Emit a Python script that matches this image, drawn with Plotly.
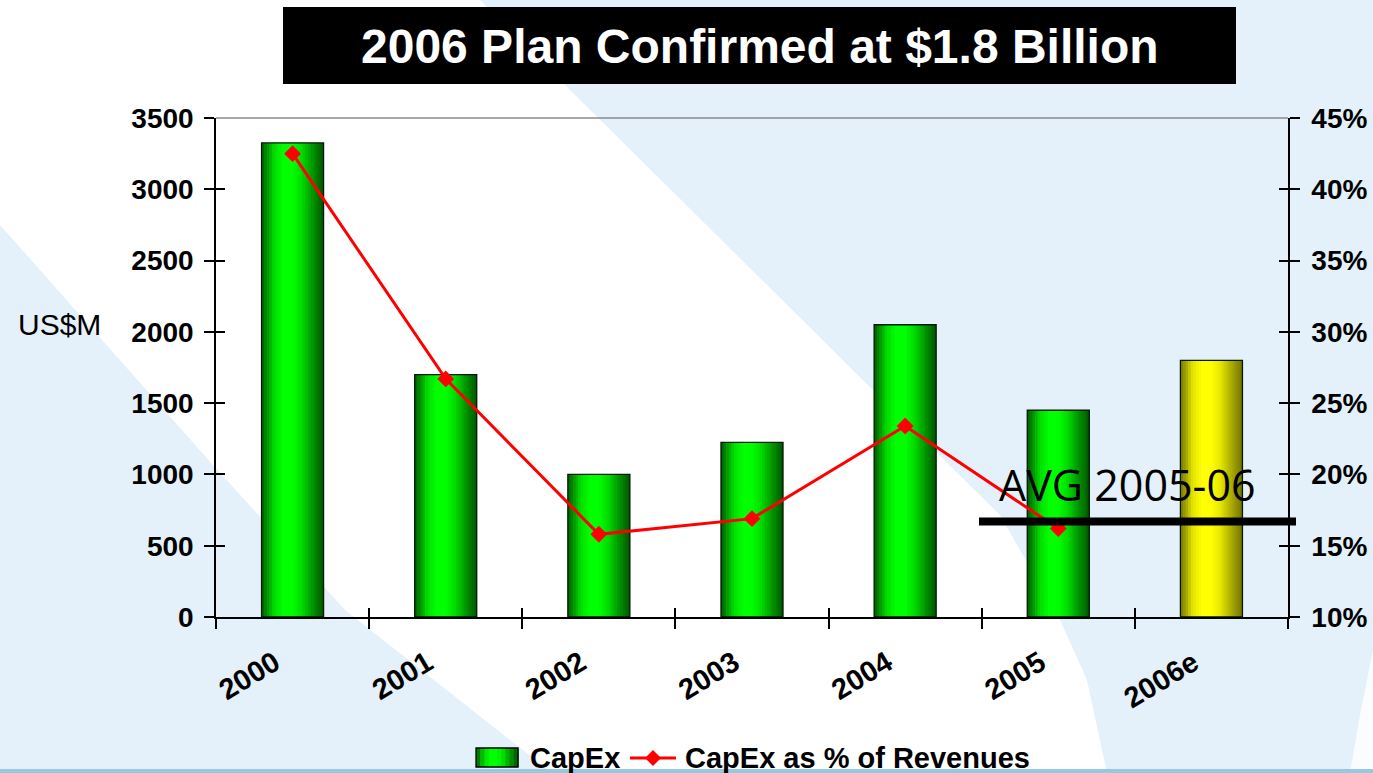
import numpy as np
import plotly.graph_objects as go

# ---- data -------------------------------------------------------------
years = ["2000", "2001", "2002", "2003", "2004", "2005", "2006e"]
capex = [3325, 1700, 1000, 1225, 2050, 1450, 1800]            # US$M
capex_pct = [42.5, 26.7, 15.8, 16.9, 23.4, 16.2, None]        # % of revenues
is_estimate = [False, False, False, False, False, False, True]
avg_pct = 16.7
avg_label = "AVG 2005-06"
capex_ticks = [0, 500, 1000, 1500, 2000, 2500, 3000, 3500]
pct_ticks = [10, 15, 20, 25, 30, 35, 40, 45]

# ---- page geometry ------------------------------------------------------
W, H = 1373, 773
L, R, T, B = 216, 1288, 118, 617          # plot area in page pixels


def px(x):
    return (x - L) / (R - L)


def py(y):
    return (B - y) / (B - T)


def path(points):
    return "M " + " L ".join(f"{px(x):.5f},{py(y):.5f}" for x, y in points) + " Z"


FONT = "Liberation Sans, Arial, sans-serif"
BLUE_BG = "rgb(228,241,250)"

fig = go.Figure()

# ---- cylinder-like shaded bars (vertical strips) -----------------------
BAR_W = 0.405
N = 24
green_t = [0, .08, .2, .35, .5, .65, .8, .92, 1]
green_g = [.36, .55, .86, 1, 1, .86, .62, .45, .32]
yellow_g = [.48, .62, .9, 1, 1, .9, .7, .55, .45]
strip = BAR_W / N
for i in range(N):
    t = (i + 0.5) / N
    g = np.interp(t, green_t, green_g)
    gy = np.interp(t, green_t, yellow_g)
    cols = [f"rgb({int(255 * gy)},{int(255 * gy)},0)" if est else f"rgb(0,{int(255 * g)},0)"
            for est in is_estimate]
    off = -BAR_W / 2 + i * strip
    wid = min(strip * 1.25, BAR_W / 2 - off)
    fig.add_trace(go.Bar(x=years, y=capex, width=wid, offset=off,
                         marker=dict(color=cols, line=dict(width=0)),
                         hoverinfo="skip", showlegend=False))

# bar outlines
fig.add_trace(go.Bar(x=years, y=capex, width=BAR_W, offset=-BAR_W / 2,
                     marker=dict(color="rgba(0,0,0,0)", line=dict(color="#001a00", width=1.3)),
                     hoverinfo="skip", showlegend=False))

# CapEx as % of revenues
fig.add_trace(go.Scatter(x=years, y=capex_pct, yaxis="y2", mode="lines+markers",
                         line=dict(color="#ff0000", width=3),
                         marker=dict(symbol="diamond", size=13, color="#ff0000"),
                         hoverinfo="skip", showlegend=False))

# helper traces carrying the inner halves of the crossing tick marks
fig.add_trace(go.Scatter(x=years, y=[None] * len(years), xaxis="x2", yaxis="y3",
                         hoverinfo="skip", showlegend=False))
fig.add_trace(go.Scatter(x=years, y=[None] * len(years), xaxis="x", yaxis="y4",
                         hoverinfo="skip", showlegend=False))

# ---- background artwork --------------------------------------------------
shapes = []
shapes.append(dict(type="path", xref="paper", yref="paper", layer="below", line=dict(width=0),
                   fillcolor=BLUE_BG,
                   path=path([(480, 0), (1373, 0), (1373, 773), (1107, 773), (1087, 680),
                              (1060, 620), (1000, 515), (870, 387), (563, 83)])))
shapes.append(dict(type="path", xref="paper", yref="paper", layer="below", line=dict(width=0),
                   fillcolor=BLUE_BG,
                   path=path([(0, 225), (212, 464), (345, 610), (486, 721), (552, 773), (0, 773)])))
shapes.append(dict(type="path", xref="paper", yref="paper", layer="below", line=dict(width=0),
                   fillcolor="rgb(250,252,254)",
                   path=path([(1373, 650), (1360, 715), (1350, 773), (1373, 773)])))
shapes.append(dict(type="rect", xref="paper", yref="paper", layer="below", line=dict(width=0),
                   fillcolor="rgb(150,200,228)",
                   x0=px(0), x1=px(W), y0=py(769), y1=py(773)))

# top frame line of the plot area
shapes.append(dict(type="line", xref="paper", yref="paper", layer="below",
                   x0=0, x1=1, y0=1, y1=1, line=dict(color="#8a8a8a", width=1.5)))

# average reference line
lo, hi = pct_ticks[0], pct_ticks[-1]
avg_y = (avg_pct - lo) / (hi - lo)
shapes.append(dict(type="line", xref="paper", yref="paper", layer="above",
                   x0=px(979), x1=px(1296), y0=avg_y, y1=avg_y,
                   line=dict(color="#000000", width=8)))

# title box
shapes.append(dict(type="rect", xref="paper", yref="paper", layer="above", line=dict(width=0),
                   fillcolor="#000000", x0=px(283), x1=px(1236), y0=py(84), y1=py(7)))

# legend symbols
LEG_Y = 758
lg_n = 10
for i in range(lg_n):
    t = (i + 0.5) / lg_n
    g = np.interp(t, green_t, green_g)
    x0 = 476 + i * (518 - 476) / lg_n
    shapes.append(dict(type="rect", xref="paper", yref="paper", layer="above", line=dict(width=0),
                       fillcolor=f"rgb(0,{int(255 * g)},0)",
                       x0=px(x0), x1=px(x0 + (518 - 476) / lg_n + 0.6),
                       y0=py(LEG_Y + 9), y1=py(LEG_Y - 10)))
shapes.append(dict(type="rect", xref="paper", yref="paper", layer="above",
                   line=dict(color="#000000", width=1.3), fillcolor="rgba(0,0,0,0)",
                   x0=px(476), x1=px(518), y0=py(LEG_Y + 9), y1=py(LEG_Y - 10)))
shapes.append(dict(type="line", xref="paper", yref="paper", layer="above",
                   x0=px(630), x1=px(676), y0=py(LEG_Y), y1=py(LEG_Y),
                   line=dict(color="#ff0000", width=3)))
shapes.append(dict(type="path", xref="paper", yref="paper", layer="above", line=dict(width=0),
                   fillcolor="#ff0000",
                   path=path([(653, LEG_Y - 8), (661, LEG_Y), (653, LEG_Y + 8), (645, LEG_Y)])))

annotations = [
    dict(text="<b>2006 Plan Confirmed at $1.8 Billion</b>", xref="paper", yref="paper",
         x=px(759.5), y=py(46.5), xanchor="center", yanchor="middle", showarrow=False,
         font=dict(family=FONT, size=48, color="#ffffff")),
    dict(text="US$M", xref="paper", yref="paper", x=px(59), y=py(324),
         xanchor="center", yanchor="middle", showarrow=False,
         font=dict(family=FONT, size=30, color="#000000")),
    dict(text=avg_label, xref="paper", yref="paper", x=px(997), y=py(484),
         xanchor="left", yanchor="middle", showarrow=False,
         font=dict(family="Open Sans, Noto Sans, sans-serif", size=43, color="#000000")),
    dict(text="<b>CapEx</b>", xref="paper", yref="paper", x=px(528), y=py(LEG_Y),
         xanchor="left", yanchor="middle", showarrow=False,
         font=dict(family=FONT, size=29, color="#000000")),
    dict(text="<b>CapEx as % of Revenues</b>", xref="paper", yref="paper", x=px(683), y=py(LEG_Y),
         xanchor="left", yanchor="middle", showarrow=False,
         font=dict(family=FONT, size=29, color="#000000")),
]

tick_font = dict(family=FONT, size=28, color="#000000")
cat_range = [-0.5, len(years) - 0.5]

fig.update_layout(
    width=W, height=H,
    margin=dict(l=L, r=W - R, t=T, b=H - B, pad=0),
    paper_bgcolor="#ffffff", plot_bgcolor="rgba(0,0,0,0)",
    barmode="overlay", showlegend=False,
    shapes=shapes, annotations=annotations,
    xaxis=dict(type="category", categoryorder="array", categoryarray=years, range=cat_range,
               tickvals=years, ticktext=[f"<b>{y}</b>" for y in years],
               showline=True, linecolor="#000000", linewidth=1.5, automargin=False,
               ticks="outside", ticklen=10, tickwidth=1.5, tickcolor="#000000",
               tickson="boundaries", tickangle=-31, ticklabelstandoff=16, ticklabelshift=-18,
               showgrid=False, zeroline=False,
               tickfont=dict(family=FONT, size=29, color="#000000")),
    xaxis2=dict(type="category", categoryorder="array", categoryarray=years, range=cat_range,
                overlaying="x", anchor="y", side="bottom", showline=False, automargin=False,
                ticks="inside", ticklen=9, tickwidth=1.5, tickcolor="#000000",
                tickson="boundaries", showticklabels=False, showgrid=False, zeroline=False),
    yaxis=dict(range=[capex_ticks[0], capex_ticks[-1]], tickvals=capex_ticks,
               ticktext=[f"<b>{v}</b>" for v in capex_ticks],
               showline=True, linecolor="#000000", linewidth=1.5, automargin=False,
               ticks="outside", ticklen=10, tickwidth=1.5, tickcolor="#000000",
               ticklabelstandoff=5, showgrid=False, zeroline=False,
               tickfont=tick_font),
    yaxis2=dict(range=[lo, hi], tickvals=pct_ticks, ticktext=[f"<b>{v}%</b>" for v in pct_ticks],
                overlaying="y", side="right", anchor="x", automargin=False,
                showline=True, linecolor="#000000", linewidth=1.5,
                ticks="outside", ticklen=10, tickwidth=1.5, tickcolor="#000000",
                ticklabelstandoff=6, showgrid=False, zeroline=False,
                tickfont=tick_font),
    yaxis3=dict(range=[capex_ticks[0], capex_ticks[-1]], tickvals=capex_ticks,
                overlaying="y", side="left", anchor="x", showline=False, automargin=False,
                ticks="inside", ticklen=9, tickwidth=1.5, tickcolor="#000000",
                showticklabels=False, showgrid=False, zeroline=False),
    yaxis4=dict(range=[lo, hi], tickvals=pct_ticks,
                overlaying="y", side="right", anchor="x", showline=False, automargin=False,
                ticks="inside", ticklen=9, tickwidth=1.5, tickcolor="#000000",
                showticklabels=False, showgrid=False, zeroline=False),
)

fig.write_html("out.html")
